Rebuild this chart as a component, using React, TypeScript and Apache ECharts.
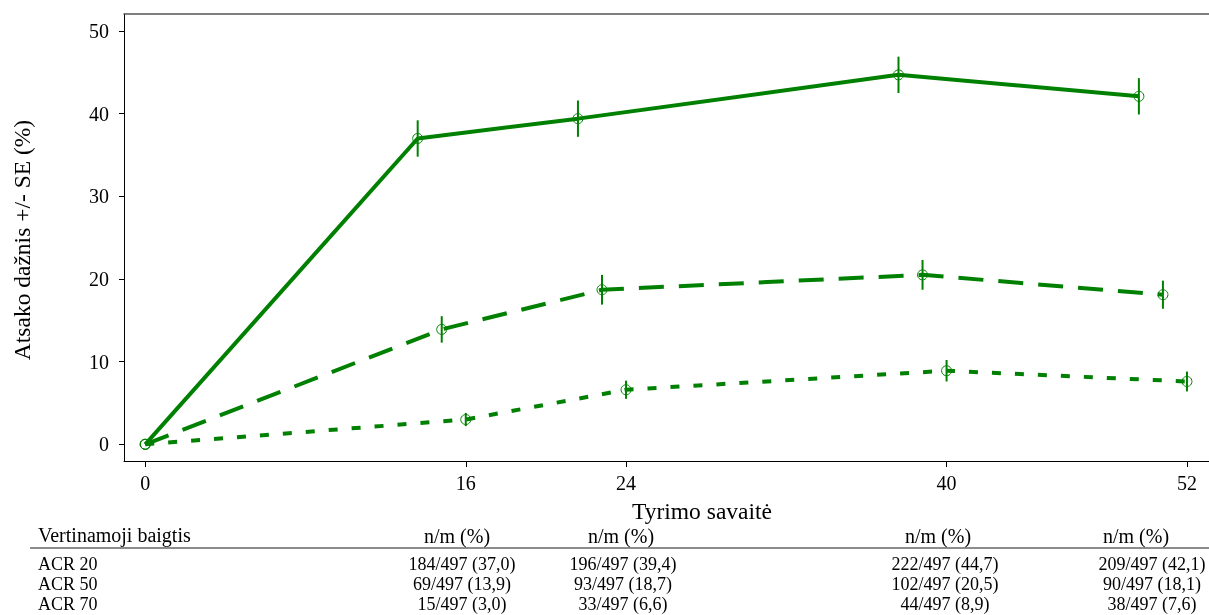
import React, { useEffect, useRef } from "react";
import * as echarts from "echarts";

// ---- Data ----
const weeks = [0, 16, 24, 40, 52];
// plotted x positions (series are dodged left of the nominal week)
const acr20X = [0, 13.6, 21.6, 37.6, 49.6];
const acr50X = [0, 14.8, 22.8, 38.8, 50.8];
const acr70X = [0, 16, 24, 40, 52];
const acr20 = [0, 37.0, 39.4, 44.7, 42.1];
const acr50 = [0, 13.9, 18.7, 20.5, 18.1];
const acr70 = [0, 3.0, 6.6, 8.9, 7.6];
const acr20SE = [0, 2.2, 2.2, 2.2, 2.2];
const acr50SE = [0, 1.6, 1.8, 1.8, 1.7];
const acr70SE = [0, 0.8, 1.1, 1.3, 1.2];
const yTicks = [0, 10, 20, 30, 40, 50];

const yAxisTitle = "Atsako dažnis +/- SE (%)";
const xAxisTitle = "Tyrimo savaitė";
const tableHeader = "Vertinamoji baigtis";
const colHeader = "n/m (%)";
const rowNames = ["ACR 20", "ACR 50", "ACR 70"];
const acr20Cells = ["184/497 (37,0)", "196/497 (39,4)", "222/497 (44,7)", "209/497 (42,1)"];
const acr50Cells = ["69/497 (13,9)", "93/497 (18,7)", "102/497 (20,5)", "90/497 (18,1)"];
const acr70Cells = ["15/497 (3,0)", "33/497 (6,6)", "44/497 (8,9)", "38/497 (7,6)"];

const GREEN = "#008000";
const FONT = "Liberation Serif";
const FS = 20;
const TITLE_FS = 23.5;
const TABLE_FS = 18;

function pts(xs: number[], ys: number[]) {
  return xs.map((x, i) => [x, ys[i]]);
}
function bars(xs: number[], ys: number[], se: number[]) {
  return xs
    .map((x, i) => [x, ys[i] - se[i], ys[i] + se[i], se[i]])
    .filter((d) => d[3] > 0);
}

export default function App() {
  const ref = useRef<HTMLDivElement>(null);
  useEffect(() => {
    document.body.style.margin = "0";
    const chart = echarts.init(ref.current!, null, { renderer: "svg" });

    const lineSeries = (name: string, data: number[][], type: any) => ({
      name,
      type: "line",
      data,
      symbol: "circle",
      symbolSize: 10,
      itemStyle: { color: "rgba(0,0,0,0)", borderColor: GREEN, borderWidth: 1 },
      lineStyle: { color: GREEN, width: 4, type },
      z: 2,
    });
    const errSeries = (data: number[][]) => ({
      type: "custom",
      data,
      encode: { x: 0, y: [1, 2] },
      z: 3,
      renderItem: (_p: any, api: any) => {
        const a = api.coord([api.value(0), api.value(1)]);
        const b = api.coord([api.value(0), api.value(2)]);
        return {
          type: "line",
          shape: { x1: a[0], y1: a[1], x2: b[0], y2: b[1] },
          style: { stroke: GREEN, lineWidth: 2 },
        };
      },
    });

    const colHeadX = [457, 621, 938, 1136];
    const colDataX = [462, 623, 945, 1152];
    const rowY = [564, 584, 604];
    const cellRows = [acr20Cells, acr50Cells, acr70Cells];
    const txt = (x: number, y: number, text: string, align: string = "left", fs = TABLE_FS) => ({
      type: "text",
      x,
      y,
      style: {
        text,
        fontFamily: FONT,
        fontSize: fs,
        fill: "#000",
        align,
        verticalAlign: "middle",
      },
    });
    const graphics: any[] = [
      {
        type: "text",
        x: 22,
        y: 240,
        rotation: Math.PI / 2,
        style: {
          text: yAxisTitle,
          fontFamily: FONT,
          fontSize: TITLE_FS,
          fill: "#000",
          align: "center",
          verticalAlign: "middle",
        },
      },
      txt(702, 511, xAxisTitle, "center", TITLE_FS),
      txt(38, 535, tableHeader, "left", 20),
      {
        type: "line",
        shape: { x1: 30, y1: 548, x2: 1209, y2: 548 },
        style: { stroke: "#666", lineWidth: 1.5 },
      },
    ];
    colHeadX.forEach((x) => graphics.push(txt(x, 536, colHeader, "center", 20)));
    rowNames.forEach((r, i) => {
      graphics.push(txt(38, rowY[i], r));
      cellRows[i].forEach((c, j) => graphics.push(txt(colDataX[j], rowY[i], c, "center")));
    });

    chart.setOption({
      animation: false,
      grid: { left: 124, top: 14, right: 0, bottom: 154, containLabel: false },
      xAxis: [
        {
          type: "value",
          min: -1.06,
          max: 53.1,
          splitLine: { show: false },
          axisLine: { show: true, onZero: false, lineStyle: { color: "#000", width: 1 } },
          axisTick: { show: true, customValues: weeks, length: 6, lineStyle: { color: "#000" } },
          axisLabel: {
            customValues: weeks,
            fontFamily: FONT,
            fontSize: FS,
            color: "#000",
            margin: 12,
          },
        },
        {
          type: "value",
          position: "top",
          min: -1.06,
          max: 53.1,
          splitLine: { show: false },
          axisLine: { show: true, onZero: false, lineStyle: { color: "#555", width: 1.5 } },
          axisTick: { show: false },
          axisLabel: { show: false },
        },
      ],
      yAxis: {
        type: "value",
        min: -2.02,
        max: 52.06,
        splitLine: { show: false },
        axisLine: { show: true, onZero: false, lineStyle: { color: "#000", width: 1 } },
        axisTick: { show: true, customValues: yTicks, length: 5, lineStyle: { color: "#000" } },
        axisLabel: {
          customValues: yTicks,
          fontFamily: FONT,
          fontSize: FS,
          color: "#000",
          margin: 15,
        },
      },
      series: [
        lineSeries("ACR 20", pts(acr20X, acr20), "solid"),
        lineSeries("ACR 50", pts(acr50X, acr50), [25, 15]),
        lineSeries("ACR 70", pts(acr70X, acr70), [9, 14]),
        errSeries(bars(acr20X, acr20, acr20SE)),
        errSeries(bars(acr50X, acr50, acr50SE)),
        errSeries(bars(acr70X, acr70, acr70SE)),
      ],
      graphic: graphics,
    });
    return () => chart.dispose();
  }, []);
  return (
    <div
      ref={ref}
      style={{ position: "fixed", left: 0, top: 0, width: 1209, height: 615 }}
    />
  );
}
